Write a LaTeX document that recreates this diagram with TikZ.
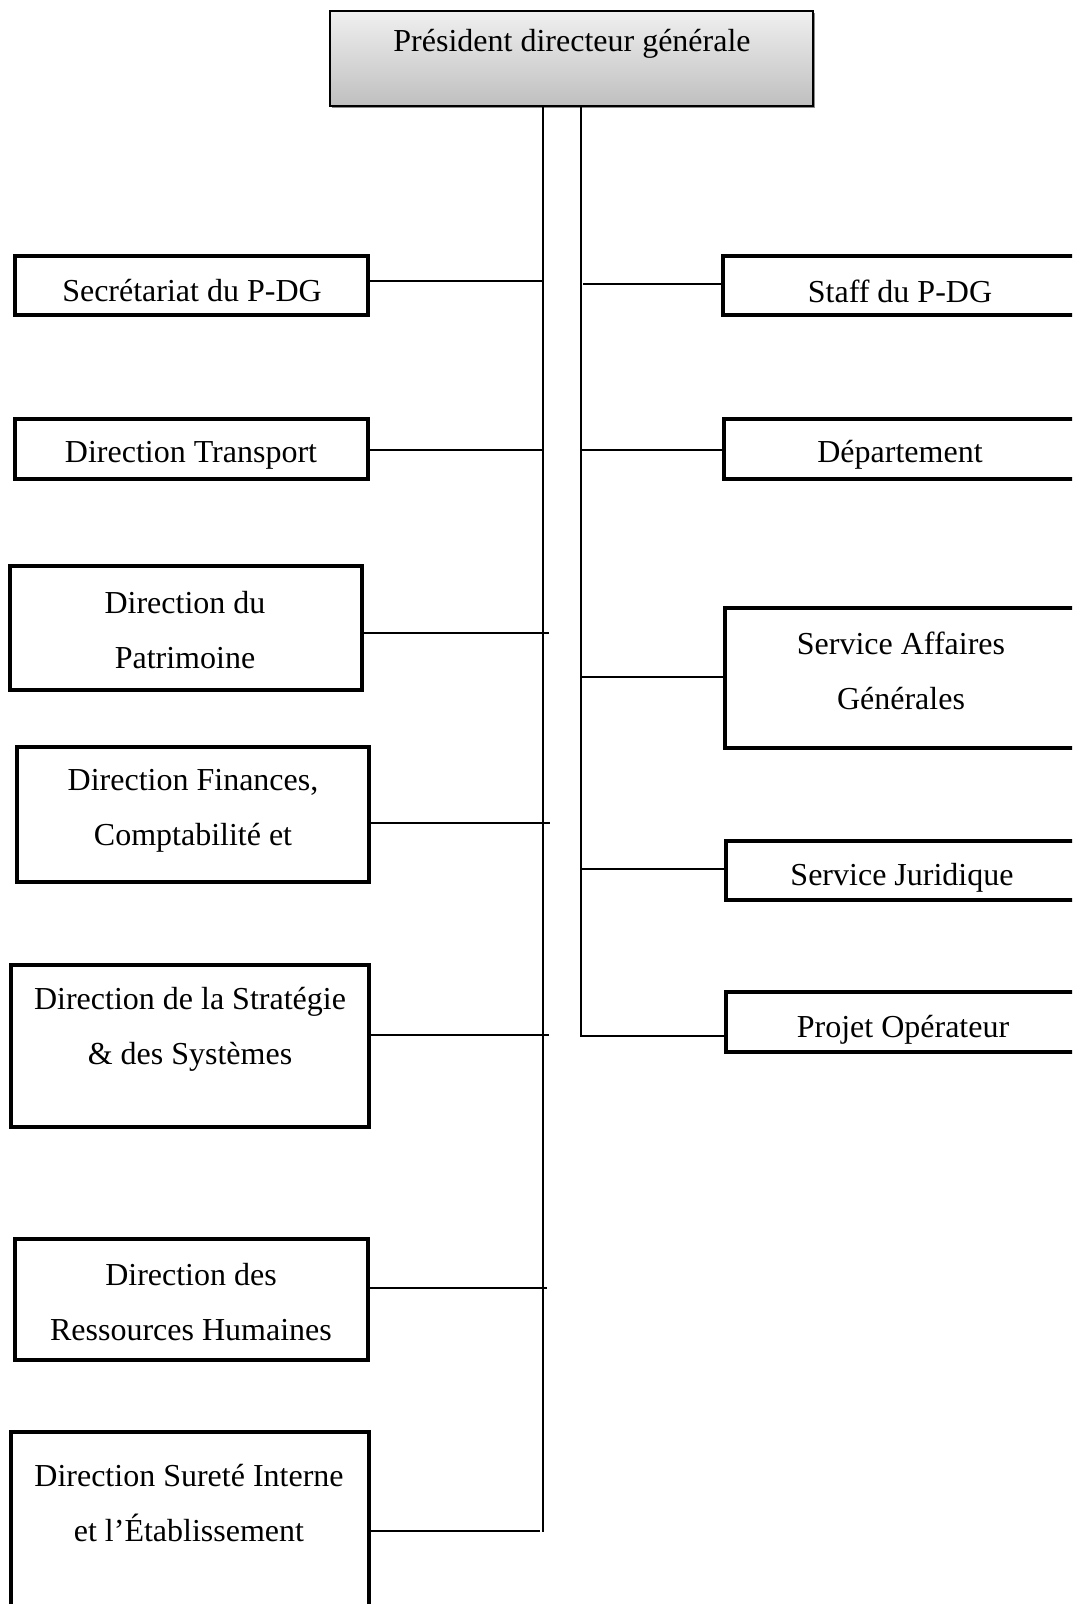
\documentclass[tikz,border=0pt]{standalone}
\usepackage{fontspec}
\setmainfont{Liberation Serif}
\usetikzlibrary{fit,shadows}
\begin{document}
\begin{tikzpicture}[x=0.5pt,y=-0.5pt,
  box/.style={draw, line width=1.6pt, inner sep=0pt},
  topbox/.style={draw, line width=1pt, inner sep=0pt, top color=white!94!black, bottom color=black!25,
     drop shadow={shadow xshift=1.2pt, shadow yshift=-1.2pt, fill=black!45, opacity=1}},
  txt/.style={font=\fontsize{16}{27.5}\selectfont, align=center, inner sep=0pt},
  conn/.style={line width=0.8pt}]
\clip (0,0) rectangle (1072,1604);
\path[use as bounding box] (0,0) rectangle (1072,1604);

% top
\node[topbox, fit={(330,11) (813,106)}] (pdg) {};
\node[txt] (tpdg) at (572,44) {Président directeur générale};

% trunks
\coordinate (L0) at (543,107);
\coordinate (Lend) at (543,1532);
\coordinate (R0) at (581,107);
\coordinate (Rend) at (581,1036);
\draw[conn] (pdg.south -| L0) -- (Lend);

% left boxes
\node[box, fit={(15,256) (368,315)}] (l1) {};
\node[txt] (tl1) at (192,291) {Secrétariat du P-DG};
\node[box, fit={(15,419) (368,479)}] (l2) {};
\node[txt] (tl2) at (191,455) {Direction Transport};
\node[box, fit={(10,566) (362,690)}] (l3) {};
\node[txt] (tl3) at (185,630) {Direction du\\Patrimoine};
\node[box, fit={(17,747) (369,882)}] (l4) {};
\node[txt] (tl4) at (193,811) {Direction Finances,\\Comptabilité et};
\node[box, fit={(11,965) (369,1127)}] (l5) {};
\node[txt] (tl5) at (190,1029) {Direction de la Stratégie\\\& des Systèmes};
\node[box, fit={(15,1239) (368,1360)}] (l6) {};
\node[txt] (tl6) at (191,1302) {Direction des\\Ressources Humaines};
\node[box, fit={(11,1432) (369,1640)}] (l7) {};
\node[txt] (tl7) at (189,1503) {Direction Sureté Interne\\et l’Établissement};

% left connectors
\coordinate (c1) at (543,281);
\coordinate (c2) at (543,450);
\coordinate (c3) at (549,633);
\coordinate (c4) at (550,823);
\coordinate (c5) at (549,1035);
\coordinate (c6) at (547,1288);
\coordinate (c7) at (540,1531);
\foreach \i in {1,...,7} {\draw[conn] (l\i.east |- c\i) -- (c\i);}

% right boxes
\node[box, fit={(723,256) (1100,315)}] (r1) {};
\node[txt] (tr1) at (900,291) {Staff du P-DG};
\node[box, fit={(724,419) (1100,479)}] (r2) {};
\node[txt] (tr2) at (900,455) {Département};
\node[box, fit={(725,608) (1100,748)}] (r3) {};
\node[txt] (tr3) at (901,671) {Service Affaires\\Générales};
\node[box, fit={(726,841) (1100,900)}] (r4) {};
\node[txt] (tr4) at (902,878) {Service Juridique};
\node[box, fit={(726,992) (1100,1052)}] (r5) {};
\node[txt] (tr5) at (903,1030) {Projet Opérateur};

% right trunk and connectors
\draw[conn] (pdg.south -| R0) -- (Rend) -- (r5.west |- Rend);
\coordinate (d1) at (583,284);
\coordinate (d2) at (581,450);
\coordinate (d3) at (581,677);
\coordinate (d4) at (581,869);
\foreach \i in {1,...,4} {\draw[conn] (d\i) -- (r\i.west |- d\i);}
\end{tikzpicture}
\end{document}
